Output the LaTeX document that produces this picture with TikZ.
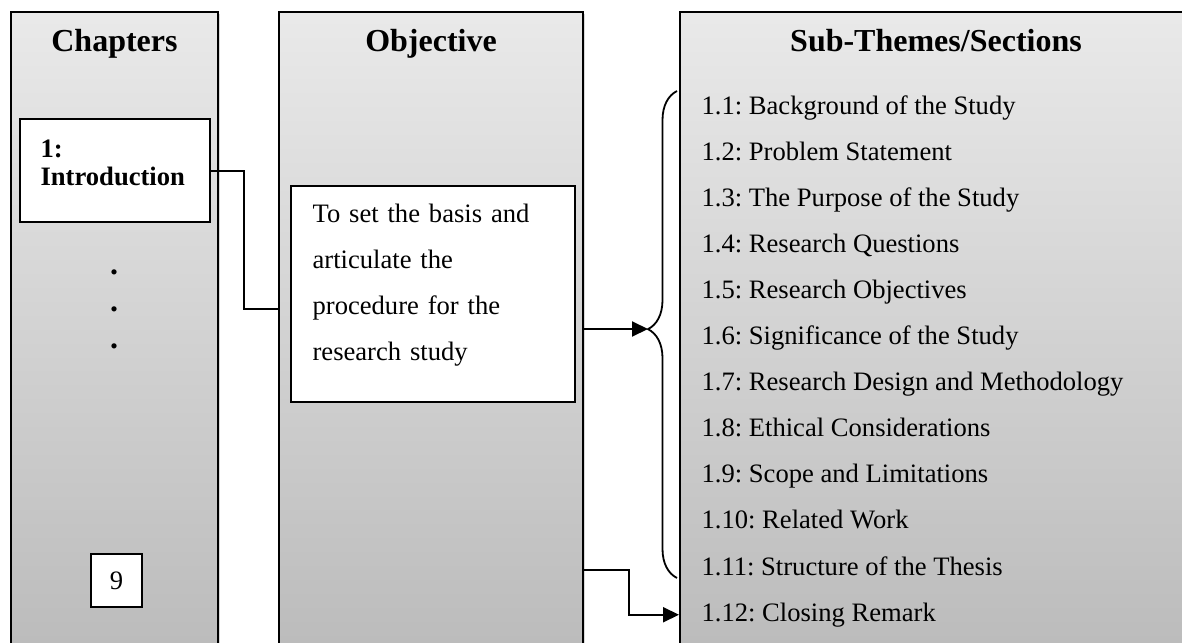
\documentclass[tikz,border=0pt]{standalone}
\usepackage{fontspec}
\setmainfont{Liberation Serif}
\usetikzlibrary{arrows.meta,positioning,fit,shadows,decorations.pathreplacing}
\frenchspacing

\begin{document}
\begin{tikzpicture}[
    x = 0.5pt, y = -0.5pt, % one unit per pixel, y downwards
    > = {Triangle[length=8pt,width=7.5pt]}, % arrow head style
    semithick % line style
    ]

    \tikzset{
    column/.style = {draw = black, line width = 1pt, inner sep = 0pt,
        top color = gray!17, bottom color = gray!53,
        drop shadow = {shadow xshift = 1pt, shadow yshift = -1pt, opacity = 0.3}},
    heading/.style = {anchor = base, inner sep = 0pt, font = \fontsize{16}{19}\selectfont\bfseries},
    whitebox/.style = {draw = black, line width = 0.75pt, fill = white, inner sep = 0pt},
    body/.style = {inner sep = 0pt, font = \fontsize{13.3}{16}\selectfont},
    item/.style = {body, anchor = base west},
    link/.style = {draw = black, line width = 1pt}
    }
    \useasboundingbox (0,0) rectangle (1182,642);
    \clip (0,0) rectangle (1182,642);

    % the three columns
    \node[column, fit = {(11,12) (218,650)}] (chapcol) {};
    \node[column, fit = {(279,12) (583,650)}] (objcol) {};
    \node[column, fit = {(680,12) (1192,650)}] (subcol) {};

    \node[heading] (chaphd) at (chapcol.north |- 0,52) {Chapters};
    \node[heading] (objhd) at (objcol.north |- 0,52) {Objective};
    \node[heading] (subhd) at (936,52) {Sub-Themes/Sections};

    % chapters
    \node[whitebox, fit = {(20,119) (210,222)}] (intro) {};
    \node[body, anchor = base west, text width = 80pt, align = left,
        font = \fontsize{13.3}{14}\selectfont\bfseries] (introtxt) at (40,157) {1:\\Introduction};
    \foreach \y [count=\k] in {272,309,346}
        \node[body, font = \fontsize{16}{16}\selectfont\bfseries] (dot\k) at (114,\y) {.};
    \node[whitebox, minimum width = 25.5pt, minimum height = 26.5pt] (nine) at (116.5,580.5) {\fontsize{13.3}{16}\selectfont 9};

    % objective
    \node[whitebox, fit = {(291,186) (575,402)}] (obj) {};
    \node[body, anchor = base west, text width = 125pt, align = left,
        font = \fontsize{13.3}{23}\selectfont] (objtxt) at (312,222)
        {To set the basis and\\articulate the\\procedure for the\\research study};

    % sub-themes
    \foreach \txt [count=\k] in {{1.1: Background of the Study}, {1.2: Problem Statement},
        {1.3: The Purpose of the Study}, {1.4: Research Questions},
        {1.5: Research Objectives}, {1.6: Significance of the Study},
        {1.7: Research Design and Methodology}, {1.8: Ethical Considerations},
        {1.9: Scope and Limitations}, {1.10: Related Work},
        {1.11: Structure of the Thesis}, {1.12: Closing Remark}}
        \node[item] (s\k) at (701,{114+46.1*(\k-1)}) {\txt};

    \coordinate (bracetop) at (677,91);
    \coordinate (bracebot) at (677,578);
    \coordinate (bracetip) at (648,329);
    \draw[line width = 0.9pt, decorate, decoration = {brace, amplitude = 14.5pt, aspect = 0.511}]
        (bracebot) -- (bracetop);

    % connectors
    \coordinate (bend) at (244,309);
    \coordinate (jog) at (629,570);
    \draw[link] (intro.east) -| (bend) -- (objcol.west |- bend);
    \draw[link, ->] (objcol.east |- bracetip) -- (bracetip);
    \draw[link, ->] (objcol.east |- jog) -- (jog) |- (subcol.west |- s12);
\end{tikzpicture}
\end{document}
